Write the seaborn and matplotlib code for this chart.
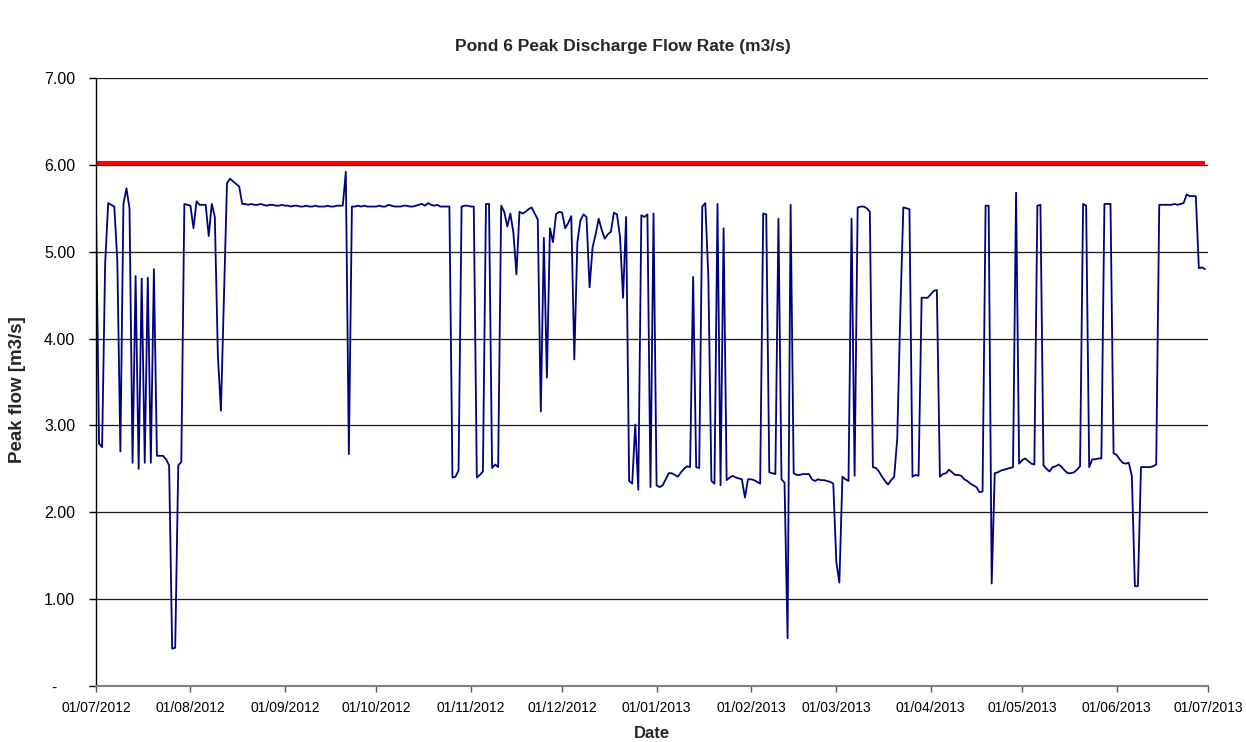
import numpy as np
import pandas as pd
import matplotlib
matplotlib.use("Agg")
import matplotlib.pyplot as plt
import matplotlib.dates as mdates
from matplotlib.ticker import FuncFormatter
import seaborn as sns

# ---------------- data ----------------
start_date = "2012-07-01"
axis_end_date = "2013-07-01"
threshold = 6.02
title = "Pond 6 Peak Discharge Flow Rate (m3/s)"
y_label = "Peak flow [m3/s]"
x_label = "Date"
y_ticks = [0, 1, 2, 3, 4, 5, 6, 7]

jul_2012 = [5.52, 2.79, 2.75, 4.86, 5.56, 5.54, 5.52, 4.90, 2.70, 5.55, 5.73, 5.50, 2.57, 4.72, 2.50, 4.69,
            2.57, 4.70, 2.57, 4.80, 2.65, 2.65, 2.65, 2.61, 2.54, 0.43, 0.44, 2.54, 2.58, 5.55, 5.54]
aug_2012 = [5.53, 5.27, 5.58, 5.54, 5.54, 5.54, 5.18, 5.55, 5.40, 3.81, 3.17, 4.50, 5.79, 5.84, 5.81, 5.78,
            5.75, 5.55, 5.55, 5.54, 5.55, 5.54, 5.54, 5.55, 5.54, 5.53, 5.54, 5.54, 5.53, 5.53, 5.54]
sep_2012 = [5.53, 5.53, 5.52, 5.53, 5.53, 5.52, 5.52, 5.53, 5.52, 5.52, 5.53, 5.52, 5.52, 5.52, 5.53,
            5.52, 5.52, 5.53, 5.53, 5.53, 5.92, 2.67, 5.52, 5.52, 5.53, 5.52, 5.53, 5.52, 5.52, 5.52]
oct_2012 = [5.52, 5.53, 5.52, 5.52, 5.54, 5.53, 5.52, 5.52, 5.52, 5.53, 5.53, 5.52, 5.52, 5.53, 5.54, 5.55,
            5.53, 5.56, 5.54, 5.53, 5.54, 5.52, 5.52, 5.52, 5.52, 2.40, 2.41, 2.48, 5.52, 5.53, 5.53]
nov_2012 = [5.52, 5.52, 2.40, 2.43, 2.47, 5.55, 5.55, 2.51, 2.55, 2.52, 5.53, 5.46, 5.29, 5.44, 5.22,
            4.74, 5.46, 5.44, 5.46, 5.49, 5.51, 5.44, 5.37, 3.16, 5.16, 3.55, 5.27, 5.11, 5.43, 5.46]
dec_2012 = [5.45, 5.27, 5.33, 5.41, 3.76, 5.11, 5.36, 5.43, 5.40, 4.59, 5.05, 5.20, 5.38, 5.25, 5.15, 5.20,
            5.23, 5.45, 5.43, 5.17, 4.47, 5.40, 2.36, 2.33, 3.01, 2.26, 5.42, 5.40, 5.43, 2.29, 5.44]
jan_2013 = [2.31, 2.29, 2.31, 2.38, 2.45, 2.45, 2.43, 2.41, 2.46, 2.50, 2.53, 2.52, 4.71, 2.52, 2.51, 5.52,
            5.56, 4.70, 2.36, 2.33, 5.55, 2.31, 5.27, 2.37, 2.40, 2.42, 2.40, 2.39, 2.38, 2.17, 2.38]
feb_2013 = [2.38, 2.37, 2.35, 2.33, 5.44, 5.43, 2.46, 2.45, 2.44, 5.38, 2.38, 2.34, 0.55, 5.54,
            2.45, 2.43, 2.43, 2.44, 2.44, 2.44, 2.38, 2.36, 2.38, 2.37, 2.37, 2.36, 2.35, 2.33]
mar_2013 = [1.43, 1.19, 2.41, 2.38, 2.36, 5.38, 2.42, 5.51, 5.52, 5.52, 5.50, 5.46, 2.52, 2.51, 2.47, 2.41,
            2.36, 2.32, 2.37, 2.41, 2.85, 4.30, 5.51, 5.50, 5.49, 2.41, 2.43, 2.42, 4.47, 4.47, 4.47]
apr_2013 = [4.51, 4.55, 4.56, 2.41, 2.44, 2.45, 2.49, 2.46, 2.43, 2.43, 2.42, 2.38, 2.36, 2.33, 2.31,
            2.29, 2.23, 2.24, 5.53, 5.53, 1.18, 2.45, 2.46, 2.48, 2.49, 2.50, 2.51, 2.52, 5.68, 2.56]
may_2013 = [2.60, 2.62, 2.59, 2.56, 2.55, 5.53, 5.54, 2.54, 2.50, 2.47, 2.52, 2.53, 2.55, 2.52, 2.48, 2.45,
            2.45, 2.46, 2.49, 2.53, 5.55, 5.53, 2.52, 2.61, 2.61, 2.62, 2.62, 5.55, 5.55, 5.55, 2.68]
jun_2013 = [2.66, 2.61, 2.57, 2.56, 2.57, 2.42, 1.15, 1.15, 2.52, 2.52, 2.52, 2.52, 2.53, 2.55, 5.54,
            5.54, 5.54, 5.54, 5.54, 5.55, 5.54, 5.55, 5.56, 5.66, 5.64, 5.64, 5.64, 4.81, 4.82, 4.80]

months = [jul_2012, aug_2012, sep_2012, oct_2012, nov_2012, dec_2012,
          jan_2013, feb_2013, mar_2013, apr_2013, may_2013, jun_2013]
peak_flow = [v for m in months for v in m]
dates = pd.date_range(start_date, periods=len(peak_flow), freq="D")
df = pd.DataFrame({"Date": dates, "Peak flow": peak_flow})
thr = pd.DataFrame({"Date": [dates[0], dates[-1]], "Limit": [threshold, threshold]})

# ---------------- plot ----------------
sns.set_style("white")
plt.rcParams["font.family"] = ["Liberation Sans", "DejaVu Sans"]

W, H = 1246, 742
fig = plt.figure(figsize=(W / 100, H / 100), dpi=100)
ax = fig.add_axes([96 / W, 56 / H, 1112 / W, 608 / H])

ax.yaxis.grid(True, color="#1a1a1a", lw=0.9)
ax.xaxis.grid(False)
ax.set_axisbelow(True)

sns.lineplot(data=df, x="Date", y="Peak flow", color="#000080", lw=1.3, ax=ax)
sns.lineplot(data=thr, x="Date", y="Limit", color="#FF0000", lw=3.0, ax=ax,
             solid_capstyle="butt", clip_on=False)

ax.set_xlim(pd.Timestamp(start_date), pd.Timestamp(axis_end_date))
ax.xaxis.set_major_locator(mdates.MonthLocator(bymonthday=1))
ax.xaxis.set_major_formatter(mdates.DateFormatter("%d/%m/%Y"))

ax.set_ylim(0, 7)
ax.set_yticks(y_ticks)
ax.yaxis.set_major_formatter(FuncFormatter(lambda v, p: "-    " if v == 0 else f"{v:.2f}"))

ax.tick_params(axis="x", bottom=True, direction="out", length=4, width=1,
               color="#555555", labelsize=10, pad=6.5, labelcolor="black")
ax.tick_params(axis="y", left=True, direction="out", length=5, width=1,
               color="black", labelsize=11.5, pad=10, labelcolor="black")

for s in ["top", "right"]:
    ax.spines[s].set_visible(False)
ax.spines["left"].set_color("black")
ax.spines["left"].set_linewidth(1.0)
ax.spines["bottom"].set_color("#808080")
ax.spines["bottom"].set_linewidth(1.5)

ax.set_xlabel("")
ax.set_ylabel("")

fig.text(0.5, 1 - 46 / H, title, ha="center", va="center", fontsize=12.5, fontweight="bold")
fig.text(18 / W, 1 - 390 / H, y_label, ha="center", va="center", rotation=90,
         fontsize=13.5, fontweight="bold")
fig.text(652 / W, 1 - 734 / H, x_label, ha="center", va="center", fontsize=12, fontweight="bold")

fig.savefig("out.png", dpi=100, facecolor="white")
